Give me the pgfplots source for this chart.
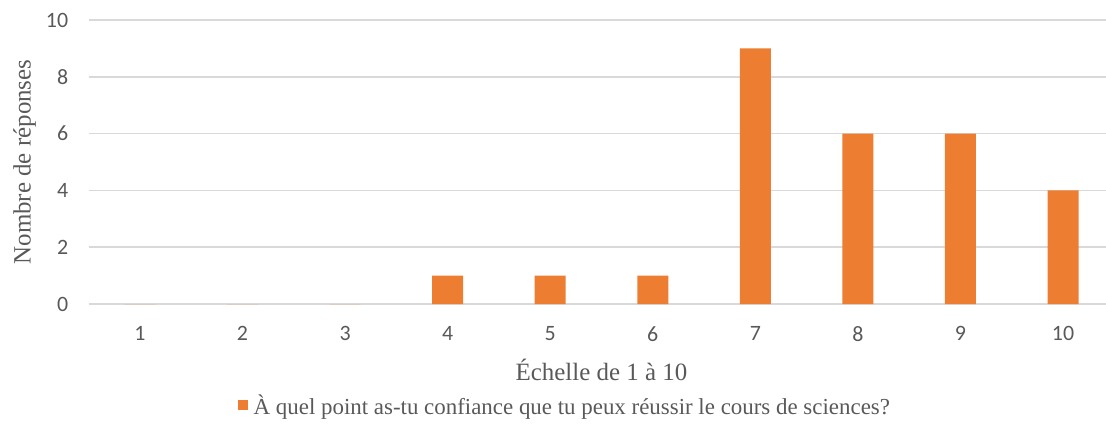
\documentclass[border=0pt]{standalone}
\usepackage{pgfplots}
\pgfplotsset{compat=1.18}
\usepackage{fontspec}
\setmainfont{Liberation Serif}
\newfontfamily\carlito{Carlito}
\definecolor{barorange}{HTML}{ED7D31}
\definecolor{txtgray}{HTML}{595959}
\definecolor{gridgray}{HTML}{D9D9D9}
\begin{document}
\begin{tikzpicture}[x=1bp,y=1bp]
\useasboundingbox (0,0) rectangle (1106,424);
\begin{axis}[
  at={(88.7bp,120bp)}, anchor=south west,
  scale only axis, width=1017.3bp, height=284bp,
  xmin=0.5, xmax=10.42, ymin=0, ymax=10,
  ytick={0,2,4,6,8,10},
  xtick={1,2,3,4,5,6,7,8,9,10},
  axis line style={draw=none},
  major tick length=0pt,
  ymajorgrids, grid style={gridgray, line width=1.5bp},
  ybar, bar width=31bp,
  /pgf/number format/assume math mode=true,
  tick label style={font=\carlito\fontsize{22}{26}\selectfont, text=txtgray},
  yticklabel style={xshift=-17bp},
  xticklabel style={yshift=-19bp},
  xlabel={Échelle de 1 à 10},
  ylabel={Nombre de réponses},
  label style={font=\fontsize{25}{30}\selectfont, text=txtgray},
  x label style={at={(axis description cs:0.504,-0.232)}, anchor=center},
  y label style={at={(axis description cs:-0.063,0.5)}, anchor=center, rotate=0},
  legend style={at={(axis description cs:0.468,-0.356)}, anchor=center, draw=none, fill=none,
    font=\fontsize{23}{27}\selectfont, text=txtgray, inner sep=0pt},
  legend image code/.code={\fill[barorange] (0bp,-5bp) rectangle (10bp,5bp); \path (14bp,0bp);},
  clip=false,
]
\addplot[fill=barorange, draw=none] coordinates {(1,0) (2,0) (3,0) (4,1) (5,1) (6,1) (7,9) (8,6) (9,6) (10,4)};
\addlegendentry{À quel point as-tu confiance que tu peux réussir le cours de sciences?}
\end{axis}
\end{tikzpicture}
\end{document}
